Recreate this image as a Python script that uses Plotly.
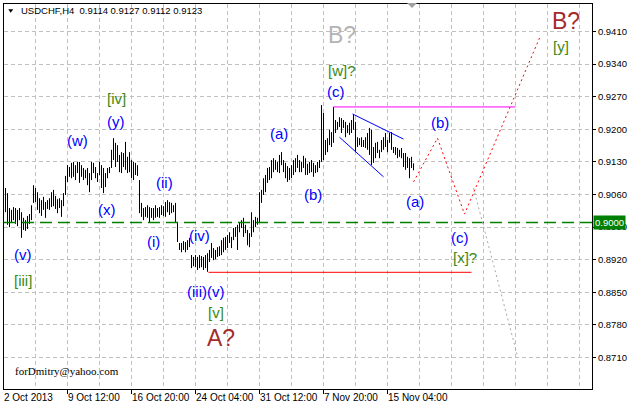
import plotly.graph_objects as go

# ---- data (price bars, H4 USDCHF) ----
highs = [
    0.9074, 0.9063, 0.9031, 0.9027, 0.9033, 0.9031, 0.9027, 0.9031, 0.9022, 0.9010,
    0.9005, 0.9014, 0.9018, 0.9037, 0.9080, 0.9074, 0.9065, 0.9052, 0.9048, 0.9055,
    0.9044, 0.9048, 0.9052, 0.9065, 0.9070, 0.9057, 0.9050, 0.9052, 0.9048, 0.9063,
    0.9100,
    0.9123, 0.9119, 0.9128, 0.9130, 0.9123, 0.9130, 0.9130, 0.9123, 0.9117, 0.9113,
    0.9117, 0.9106, 0.9130, 0.9128, 0.9119, 0.9106, 0.9130, 0.9123, 0.9117, 0.9106,
    0.9117, 0.9119, 0.9156, 0.9181, 0.9171, 0.9166, 0.9145, 0.9151, 0.9149, 0.9173,
    0.9141, 0.9151, 0.9134, 0.9130, 0.9128, 0.9123, 0.9091,
    0.9042, 0.9031, 0.9033, 0.9037, 0.9033, 0.9031, 0.9031, 0.9037, 0.9031, 0.9033,
    0.9037, 0.9035, 0.9044, 0.9048, 0.9044, 0.9042, 0.9037, 0.9042, 0.9001,
    0.8956, 0.8956, 0.8960, 0.8958, 0.8962, 0.8967, 0.8930, 0.8926, 0.8930, 0.8926,
    0.8930, 0.8928, 0.8926, 0.8930, 0.8934,
    0.8941, 0.8956, 0.8945, 0.8941, 0.8947, 0.8949, 0.8962, 0.8967, 0.8969, 0.8973,
    0.8979, 0.8969, 0.8988, 0.8990, 0.8995, 0.9001, 0.9005, 0.9010, 0.8995, 0.8984,
    0.8977, 0.9022, 0.9005, 0.9012, 0.9010, 0.9065, 0.9070, 0.9095, 0.9102, 0.9117,
    0.9119, 0.9134,
    0.9138, 0.9134, 0.9130, 0.9145, 0.9151, 0.9134, 0.9128, 0.9121, 0.9117, 0.9123,
    0.9134, 0.9138, 0.9145, 0.9134, 0.9130, 0.9143, 0.9138, 0.9126, 0.9130, 0.9134,
    0.9128, 0.9123, 0.9130, 0.9134, 0.9252, 0.9235, 0.9177, 0.9181, 0.9199, 0.9194,
    0.9248, 0.9220, 0.9216, 0.9226, 0.9224, 0.9220, 0.9216, 0.9209, 0.9214, 0.9220,
    0.9231, 0.9216, 0.9183, 0.9181, 0.9183, 0.9177, 0.9183, 0.9192, 0.9203, 0.9199,
    0.9162, 0.9171, 0.9173, 0.9156, 0.9177, 0.9183, 0.9192, 0.9177, 0.9192, 0.9194,
    0.9162, 0.9162, 0.9160, 0.9156, 0.9160, 0.9149, 0.9149, 0.9141, 0.9138, 0.9141,
    0.9127,
]
lows = [
    0.9022, 0.8995, 0.8990, 0.9001, 0.9005, 0.8997, 0.8992, 0.9005, 0.8967, 0.8984,
    0.8982, 0.8986, 0.8997, 0.9005, 0.9042, 0.9044, 0.9027, 0.9020, 0.9014, 0.9027,
    0.9010, 0.9029, 0.9027, 0.9033, 0.9035, 0.9029, 0.9020, 0.9031, 0.9012, 0.9035,
    0.9059,
    0.9087, 0.9098, 0.9095, 0.9098, 0.9091, 0.9106, 0.9085, 0.9098, 0.9091, 0.9095,
    0.9080, 0.9065, 0.9091, 0.9106, 0.9095, 0.9087, 0.9102, 0.9074, 0.9063, 0.9076,
    0.9095, 0.9106, 0.9117, 0.9134, 0.9119, 0.9130, 0.9108, 0.9106, 0.9119, 0.9113,
    0.9106, 0.9108, 0.9095, 0.9091, 0.9102, 0.9100, 0.9020,
    0.9012, 0.9005, 0.9012, 0.9010, 0.9001, 0.9010, 0.9005, 0.9010, 0.9012, 0.9010,
    0.9016, 0.9014, 0.9012, 0.9022, 0.9016, 0.9020, 0.9022, 0.9001, 0.8958,
    0.8941, 0.8936, 0.8941, 0.8936, 0.8941, 0.8947, 0.8902, 0.8906, 0.8904, 0.8898,
    0.8902, 0.8904, 0.8898, 0.8902, 0.8894,
    0.8915, 0.8924, 0.8919, 0.8921, 0.8926, 0.8928, 0.8930, 0.8936, 0.8941, 0.8945,
    0.8956, 0.8945, 0.8962, 0.8969, 0.8941, 0.8979, 0.8988, 0.8969, 0.8977, 0.8951,
    0.8947, 0.8969, 0.8979, 0.8990, 0.8995, 0.9001, 0.9042, 0.9059, 0.9065, 0.9085,
    0.9091, 0.9095,
    0.9108, 0.9113, 0.9108, 0.9106, 0.9123, 0.9108, 0.9095, 0.9087, 0.9091, 0.9095,
    0.9102, 0.9108, 0.9117, 0.9108, 0.9108, 0.9117, 0.9102, 0.9102, 0.9106, 0.9108,
    0.9098, 0.9106, 0.9108, 0.9117, 0.9130, 0.9134, 0.9145, 0.9151, 0.9166, 0.9162,
    0.9171, 0.9192, 0.9199, 0.9205, 0.9192, 0.9203, 0.9183, 0.9192, 0.9188, 0.9192,
    0.9199, 0.9151, 0.9162, 0.9166, 0.9162, 0.9162, 0.9160, 0.9156, 0.9145, 0.9123,
    0.9128, 0.9138, 0.9149, 0.9138, 0.9151, 0.9156, 0.9162, 0.9151, 0.9171, 0.9156,
    0.9149, 0.9145, 0.9138, 0.9141, 0.9138, 0.9119, 0.9113, 0.9117, 0.9095, 0.9117,
    0.9112,
]

# price axis ticks
y_ticks = [0.8710, 0.8780, 0.8850, 0.8920, 0.8990, 0.9060, 0.9130, 0.9200, 0.9270, 0.9340, 0.9410]
y_tick_text = ["%.4f" % v for v in y_ticks]

# time labels (bar index of each labelled tick)
time_tick_idx = [-1, 31, 63, 95, 127, 159, 191]
time_tick_text = ["2 Oct 2013", "9 Oct 12:00", "16 Oct 20:00", "24 Oct 04:00",
                  "31 Oct 12:00", "7 Nov 20:00", "15 Nov 04:00"]

# drawn analysis objects (bar index, price)
support_level_x = [101.5, 233]
support_level_y = [0.8893, 0.8893]
resist_level_x = [164, 255]
resist_level_y = [0.9248, 0.9248]
key_level = 0.9000
wedge_top_x = [173.5, 199]
wedge_top_y = [0.9233, 0.9179]
wedge_bot_x = [167, 189]
wedge_bot_y = [0.9183, 0.9098]
forecast_main_x = [204, 216, 229.5, 267]
forecast_main_y = [0.9087, 0.9181, 0.9018, 0.9396]
forecast_alt_x = [234, 256]
forecast_alt_y = [0.9074, 0.8713]

# ---- figure ----
fig = go.Figure()

bx, by = [], []
for i, (h, l) in enumerate(zip(highs, lows)):
    bx += [i, i, None]
    by += [l, h, None]
fig.add_trace(go.Scatter(x=bx, y=by, mode="lines", line=dict(color="black", width=1),
                         hoverinfo="skip", showlegend=False))

fig.add_trace(go.Scatter(x=[-0.75, 293.25], y=[key_level, key_level], mode="lines",
                         line=dict(color="#008000", width=1.5, dash="12px,6px"),
                         hoverinfo="skip", showlegend=False))
fig.add_trace(go.Scatter(x=support_level_x, y=support_level_y, mode="lines",
                         line=dict(color="#ff0000", width=1), hoverinfo="skip", showlegend=False))
fig.add_trace(go.Scatter(x=resist_level_x, y=resist_level_y, mode="lines",
                         line=dict(color="#ff00ff", width=1), hoverinfo="skip", showlegend=False))
for wx, wy in [(wedge_top_x, wedge_top_y), (wedge_bot_x, wedge_bot_y)]:
    fig.add_trace(go.Scatter(x=wx, y=wy, mode="lines", line=dict(color="#0000ff", width=1),
                             hoverinfo="skip", showlegend=False))
fig.add_trace(go.Scatter(x=forecast_main_x, y=forecast_main_y, mode="lines",
                         line=dict(color="#ff0000", width=1, dash="2px,3px"),
                         hoverinfo="skip", showlegend=False))
fig.add_trace(go.Scatter(x=forecast_alt_x, y=forecast_alt_y, mode="lines",
                         line=dict(color="#a8a8a8", width=1, dash="2px,3px"),
                         hoverinfo="skip", showlegend=False))

BLUE = "#0000ff"
GREEN = "#3a8a14"
BROWN = "#a52a2a"
LF = "Liberation Sans, Arial, sans-serif"
labels = [
    ("(v)", 8.75, 0.8932, BLUE, 15), ("[iii]", 8.75, 0.8876, GREEN, 15),
    ("(w)", 35.75, 0.9177, BLUE, 15), ("[iv]", 55.25, 0.9267, GREEN, 15),
    ("(y)", 55.25, 0.9216, BLUE, 15), ("(x)", 50.75, 0.9027, BLUE, 15),
    ("(ii)", 79.25, 0.9085, BLUE, 15), ("(i)", 73.75, 0.8960, BLUE, 15),
    ("(iv)", 96.75, 0.8971, BLUE, 15), ("(iii)(v)", 99.75, 0.8851, BLUE, 15),
    ("[v]", 105.25, 0.8806, GREEN, 15), ("A?", 107.75, 0.8752, BROWN, 23),
    ("(a)", 136.75, 0.9190, BLUE, 15), ("(b)", 153.75, 0.9061, BLUE, 15),
    ("(c)", 165.25, 0.9282, BLUE, 15), ("[w]?", 168.25, 0.9327, GREEN, 15),
    ("B?", 168.25, 0.9402, "#b4b4b4", 23), ("(b)", 217.25, 0.9214, BLUE, 15),
    ("(a)", 204.75, 0.9046, BLUE, 15), ("(c)", 227.25, 0.8967, BLUE, 15),
    ("[x]?", 229.75, 0.8924, GREEN, 15), ("[y]", 277.75, 0.9377, GREEN, 15),
    ("B?", 280.25, 0.9433, BROWN, 23),
]
annotations = []
for t, x, y, c, s in labels:
    annotations.append(dict(text=t, x=x, y=y, xref="x", yref="y", showarrow=False,
                            xanchor="center", yanchor="middle",
                            font=dict(family=LF, size=s, color=c)))

for idx, t in zip(time_tick_idx, time_tick_text):
    annotations.append(dict(text=t, x=max(idx, -0.75), y=0, xref="x", yref="paper",
                            xanchor="left", yanchor="top", showarrow=False, xshift=-2, yshift=-1,
                            font=dict(family=LF, size=10, color="black")))

annotations.append(dict(text="USDCHF,H4  0.9114 0.9127 0.9112 0.9123", x=(19 - 4) / 588,
                        y=(389 - 10.5) / 385, xref="paper", yref="paper", xanchor="left",
                        yanchor="middle", showarrow=False,
                        font=dict(family=LF, size=9.5, color="black")))
annotations.append(dict(text="forDmitry@yahoo.com", x=(13 - 4) / 588, y=(389 - 371) / 385,
                        xref="paper", yref="paper", xanchor="left", yanchor="middle",
                        showarrow=False,
                        font=dict(family="Liberation Serif, Times New Roman, serif", size=11,
                                  color="black")))
annotations.append(dict(text="0.9000", x=1, y=key_level, xref="paper", yref="y",
                        xanchor="left", yanchor="middle", xshift=1, showarrow=False,
                        bgcolor="#008000", borderpad=1,
                        font=dict(family=LF, size=9.5, color="white")))

shapes = [
    dict(type="path", xref="paper", yref="paper",
         path="M 0.0073 0.9862 L 0.0158 0.9862 L 0.0114 0.9774 Z",
         fillcolor="black", line=dict(width=0)),
    dict(type="path", xref="paper", yref="paper",
         path="M 0.6854 1.0026 L 0.7024 1.0026 L 0.6939 0.9896 Z",
         fillcolor="#a0a0a0", line=dict(width=0)),
]

GRID = "#c0c0c0"
fig.update_layout(
    width=628, height=406,
    margin=dict(l=4, r=36, t=4, b=17, pad=0, autoexpand=False),
    paper_bgcolor="white", plot_bgcolor="white",
    showlegend=False,
    annotations=annotations,
    shapes=shapes,
    xaxis=dict(range=[-0.75, 293.25], showline=True, mirror=True, linecolor="black",
               linewidth=1, zeroline=False, tickmode="array", tickvals=time_tick_idx,
               showticklabels=False, ticks="outside", ticklen=4, tickcolor="black",
               automargin=False,
               showgrid=True, gridcolor=GRID, griddash="4px,3px", gridwidth=1,
               minor=dict(tickmode="array", tickvals=list(range(15, 294, 16)), showgrid=True,
                          gridcolor=GRID, griddash="4px,3px", ticks="")),
    yaxis=dict(range=[0.864245, 0.946904], side="right", showline=True, mirror=True,
               linecolor="black", linewidth=1, zeroline=False, tickmode="array",
               tickvals=y_ticks, ticktext=y_tick_text, ticks="outside", ticklen=3,
               automargin=False,
               tickcolor="black", showgrid=True, gridcolor=GRID, griddash="4px,3px",
               tickfont=dict(family=LF, size=9.5, color="black")),
)

fig.write_html("out.html", config={"displayModeBar": False},
               post_script="document.body.style.margin='0';document.body.style.overflow='hidden';")
